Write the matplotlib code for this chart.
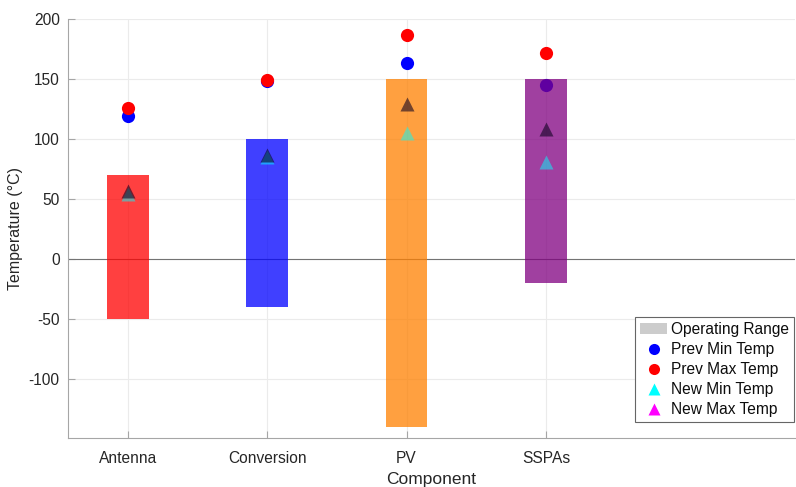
import matplotlib
matplotlib.use("Agg")
import matplotlib.pyplot as plt
from matplotlib.lines import Line2D
from matplotlib.patches import Patch

plt.rcParams['font.family'] = ['Liberation Sans', 'DejaVu Sans']
plt.rcParams['axes.unicode_minus'] = False

# Component temperature data (°C)
components = ["Antenna", "Conversion", "PV", "SSPAs"]
op_min = [-50, -40, -140, -20]
op_max = [70, 100, 150, 150]
prev_min = [119, 148, 163, 145]
prev_max = [126, 149, 187, 172]
new_min = [54, 85, 105, 81]
new_max = [57, 87, 129, 108]

bar_colors = [(1, 0, 0), (0, 0, 1), (1, 0.5, 0), (0.5, 0, 0.5)]
text_col = (0.15, 0.15, 0.15)

fig = plt.figure(figsize=(7.96, 4.87), dpi=100)
ax = fig.add_axes([0.0854, 0.1006, 0.9136, 0.8604])

x = list(range(1, len(components) + 1))

ax.axhline(0, color=(0.45, 0.45, 0.45), lw=0.8, zorder=1)

# previous-test points sit beneath the translucent operating ranges
ax.plot(x, prev_min, 'o', color='blue', ms=9.5, mec='none', zorder=2)
ax.plot(x, prev_max, 'o', color='red', ms=9.5, mec='none', zorder=2)

heights = [hi - lo for lo, hi in zip(op_min, op_max)]
ax.bar(x, heights, bottom=op_min, width=0.3, color=bar_colors, alpha=0.75,
       linewidth=0, zorder=3)

# new-test points drawn over the ranges
ax.plot(x, new_min, '^', color='cyan', alpha=0.5, ms=10, mec='none', zorder=4)
ax.plot(x, new_max, '^', color=(0.05, 0, 0.12), alpha=0.58, ms=10, mec='none', zorder=5)

ax.set_xlim(0.57, 5.79)
ax.set_ylim(-149, 200)
ax.set_xticks(x)
ax.set_xticklabels(components)
ax.set_yticks([-100, -50, 0, 50, 100, 150, 200])
ax.grid(True, color=(0.92, 0.92, 0.92), lw=0.8, zorder=0)
ax.set_axisbelow(True)

for side in ('top', 'right'):
    ax.spines[side].set_visible(False)
for side in ('left', 'bottom'):
    ax.spines[side].set_color((0.65, 0.65, 0.65))
    ax.spines[side].set_linewidth(0.8)

ax.tick_params(direction='in', length=5, width=0.8, color=(0.65, 0.65, 0.65),
               labelsize=11.2, labelcolor=text_col, pad=6)
ax.tick_params(axis='x', pad=9)

ax.set_xlabel("Component", fontsize=12.5, color=text_col, labelpad=5)
ax.set_ylabel("Temperature (°C)", fontsize=11.5, color=text_col, labelpad=4)

handles = [
    Patch(facecolor=(0.8, 0.8, 0.8), edgecolor='none'),
    Line2D([], [], marker='o', ls='none', color='blue', ms=8, mec='none'),
    Line2D([], [], marker='o', ls='none', color='red', ms=8, mec='none'),
    Line2D([], [], marker='^', ls='none', color='cyan', ms=8, mec='none'),
    Line2D([], [], marker='^', ls='none', color='magenta', ms=8, mec='none'),
]
labels = ["Operating Range", "Prev Min Temp", "Prev Max Temp",
          "New Min Temp", "New Max Temp"]
leg = ax.legend(handles, labels, loc='lower right', bbox_to_anchor=(0.998, 0.038),
                fontsize=11.2, frameon=True, fancybox=False, framealpha=1,
                edgecolor=(0.4, 0.4, 0.4), labelspacing=0.33, handlelength=1.75,
                handletextpad=0.25, borderpad=0.3, borderaxespad=0)
leg.get_frame().set_linewidth(0.8)
for t in leg.get_texts():
    t.set_color((0.05, 0.05, 0.05))

fig.savefig("out.png", dpi=100)
